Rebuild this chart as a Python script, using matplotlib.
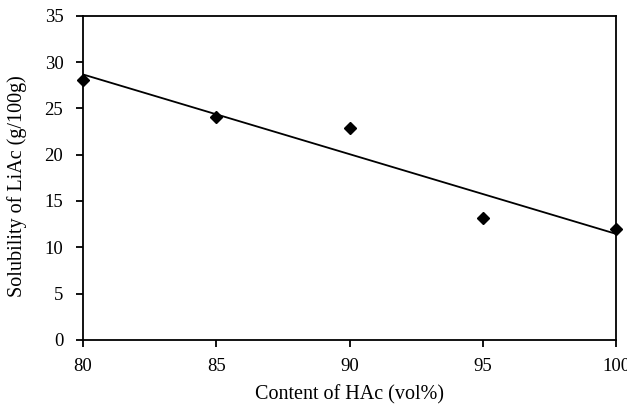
import matplotlib
matplotlib.use("Agg")
import matplotlib.pyplot as plt
import numpy as np

# data
hac_content = [80, 85, 90, 95, 100]          # vol%
liac_solubility = [28.1, 24.1, 22.9, 13.2, 12.0]  # g/100g

xticks = [80, 85, 90, 95, 100]
yticks = [0, 5, 10, 15, 20, 25, 30, 35]

plt.rcParams['font.family'] = ['Liberation Serif', 'DejaVu Serif']

fig = plt.figure(figsize=(6.27, 4.07), dpi=100)
ax = fig.add_axes([0.132, 0.165, 0.851, 0.796])

# linear trend line through the points
coef = np.polyfit(hac_content, liac_solubility, 1)
xfit = np.array([min(hac_content), max(hac_content)])
ax.plot(xfit, np.polyval(coef, xfit), color="black", linewidth=1.3, zorder=2)

ax.plot(hac_content, liac_solubility, linestyle="none", marker="D",
        markersize=6, color="black", zorder=3, clip_on=False)

ax.set_xlim(80, 100)
ax.set_ylim(0, 35)
ax.set_xticks(xticks)
ax.set_yticks(yticks)
ax.tick_params(direction="out", length=5, width=1.3, labelsize=13.5)
ax.tick_params(axis="x", pad=8)
ax.tick_params(axis="y", pad=9)
for s in ax.spines.values():
    s.set_linewidth(1.3)

ax.set_xlabel("Content of HAc (vol%)", fontsize=14.5, labelpad=7)
ax.set_ylabel("Solubility of LiAc (g/100g)", fontsize=14.5)
ax.yaxis.set_label_coords(-0.104, 0.475)

fig.savefig("out.png", dpi=100)
